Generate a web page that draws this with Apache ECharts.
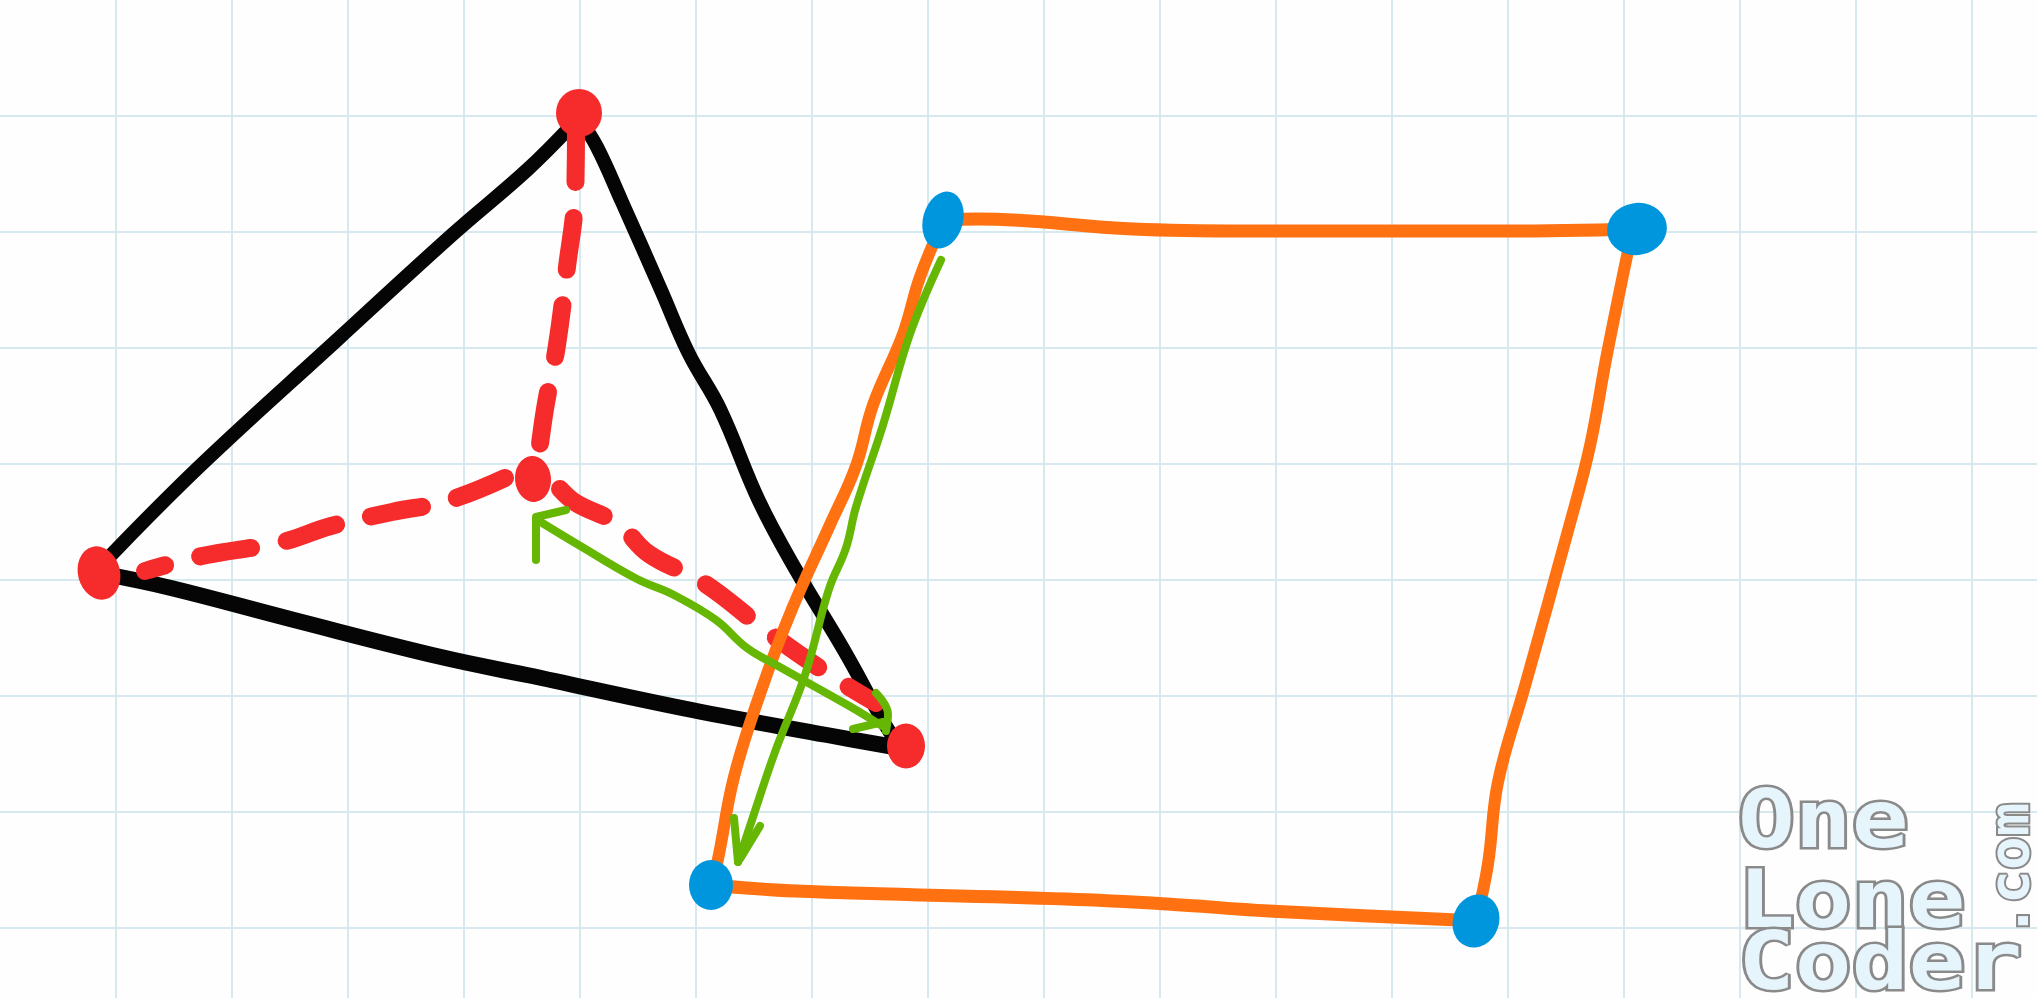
<!DOCTYPE html>
<html>
<head>
<meta charset="utf-8">
<script src="https://cdn.jsdelivr.net/npm/echarts@6/dist/echarts.min.js"></script>
<style>
html,body{margin:0;padding:0;background:#fefefe;}
#chart{width:2037px;height:998px;}
</style>
</head>
<body>
<div id="chart"></div>
<script>
// ---- data (sketch coordinates on the paper) ----
const tetraVertices = [[579,113],[99,573],[906,746],[533,479]]; // apex, left, front-right, back
const quadVertices = [[943,220],[1637,229],[1476,921],[711,885]];

const edgeApexLeft = [[572,125],[527,170],[453,234],[337,340],[202,464],[110,556],[99,570]];
const edgeApexFront = [[580,120],[597,147],[622,202],[661,290],[689,354],[720,409],[759,501],[796,570],[845,652],[883,721],[895,740]];
const edgeLeftFront = [[105,574],[171,588],[294,620],[441,657],[527,675],[692,710],[827,735],[900,748]];

const dashApexBack = [[576,130],[575,198],[567,267],[557,345],[545,409],[538,460]];
const dashBackLeft = [[505,478],[447,501],[392,512],[331,526],[282,542],[202,556],[145,571]];
const dashBackFront = [[560,489],[576,503],[618,524],[649,554],[704,583],[768,632],[833,677],[876,703]];

const quadTop = [[943,220],[978,219],[1133,229],[1248,231],[1505,231],[1637,229]];
const quadRight = [[1632,232],[1607,354],[1590,446],[1569,527],[1525,686],[1498,782],[1488,864],[1476,921]];
const quadBottom = [[711,885],[795,891],[1066,899],[1167,904],[1269,911],[1458,920],[1476,921]];
const quadLeft = [[943,222],[920,277],[903,334],[873,405],[856,466],[829,527],[792,609],[761,691],[734,777],[718,859],[711,885]];

const arrowDown = [[941,260],[910,334],[883,425],[856,507],[846,548],[829,589],[805,675],[775,752],[751,823],[738,862]];
const arrowDownHeadL = [[734,818],[738,862]];
const arrowDownHeadR = [[760,826],[740,859]];
const arrowDiag = [[539,521],[582,547],[637,579],[674,595],[716,620],[747,648],[778,666],[851,707],[882,726]];
const arrowDiagHeadBack = [[536,560],[536,517],[566,510]];
const arrowDiagHeadEnd1 = [[876,693],[888,714],[886,731]];
const arrowDiagHeadEnd2 = [[853,729],[883,722]];

const watermarkLines = ['One','Lone','Coder.'];
const watermarkSide = '.com';

// ---- styles ----
const RED = '#f62b2b', BLUE = '#0096dd', ORANGE = '#ff7111', GREEN = '#66b604', BLACK = '#050505';
const redSizes = [[46,48],[42,54],[38,45],[36,46]];
const redRot = [0,15,0,5];
const blueSizes = [[40,58],[60,52],[46,54],[44,50]];
const blueRot = [-15,10,-20,0];

function stroke(data, color, width, extra) {
  return Object.assign({
    type: 'line', data: data, smooth: 0.4, symbol: 'none', silent: true,
    lineStyle: { color: color, width: width, cap: 'round', join: 'round' }
  }, extra || {});
}
function dashed(data) {
  return stroke(data, RED, 18, {
    lineStyle: { color: RED, width: 18, cap: 'round', join: 'round', type: [52, 36], dashOffset: 0 }
  });
}

const series = [
  stroke(edgeApexLeft, BLACK, 14),
  stroke(edgeApexFront, BLACK, 14),
  stroke(edgeLeftFront, BLACK, 16),
  dashed(dashApexBack),
  dashed(dashBackLeft),
  dashed(dashBackFront),
  stroke(quadTop, ORANGE, 13),
  stroke(quadRight, ORANGE, 12),
  stroke(quadBottom, ORANGE, 13),
  stroke(quadLeft, ORANGE, 12),
  stroke(arrowDown, GREEN, 8),
  stroke(arrowDownHeadL, GREEN, 8, {smooth: false}),
  stroke(arrowDownHeadR, GREEN, 8, {smooth: false}),
  stroke(arrowDiag, GREEN, 8),
  stroke(arrowDiagHeadBack, GREEN, 8, {smooth: false}),
  stroke(arrowDiagHeadEnd1, GREEN, 8),
  stroke(arrowDiagHeadEnd2, GREEN, 8, {smooth: false}),
  {
    type: 'scatter', silent: true, z: 5,
    data: tetraVertices.map((v, i) => ({ value: v, symbolSize: redSizes[i], symbolRotate: redRot[i] })),
    itemStyle: { color: RED, opacity: 1 }
  },
  {
    type: 'scatter', silent: true, z: 5,
    data: quadVertices.map((v, i) => ({ value: v, symbolSize: blueSizes[i], symbolRotate: blueRot[i] })),
    itemStyle: { color: BLUE, opacity: 1 }
  }
];

const wmStyle = { fill: '#e6f4fc', stroke: '#8a8a8a', lineWidth: 5, font: 'bold 80px "DejaVu Sans Mono"' };
const wmTops = [786, 866, 928];
const graphics = watermarkLines.map((t, i) => ({
  type: 'text', x: 1738, y: wmTops[i], scaleX: 1.18, z: 10, silent: true,
  style: Object.assign({ text: t, textVerticalAlign: 'top' }, wmStyle)
}));
graphics.push({
  type: 'text', x: 2013, y: 870, rotation: Math.PI / 2, z: 10, silent: true,
  style: { text: watermarkSide, textAlign: 'center', textVerticalAlign: 'middle',
           fill: '#e6f4fc', stroke: '#8a8a8a', lineWidth: 4, font: 'bold 56px "DejaVu Sans Mono"' }
});

const chart = echarts.init(document.getElementById('chart'), null, { renderer: 'canvas' });
chart.setOption({
  backgroundColor: '#fefefe',
  animation: false,
  grid: { left: 0, right: 0, top: 0, bottom: 0 },
  xAxis: {
    type: 'value', min: 0, max: 2037, interval: 116,
    axisLine: { show: false }, axisTick: { show: false }, axisLabel: { show: false },
    splitLine: { show: true, showMinLine: false, showMaxLine: false, lineStyle: { color: '#d6e9ef', width: 2 } }
  },
  yAxis: {
    type: 'value', min: 0, max: 998, interval: 116, inverse: true,
    axisLine: { show: false }, axisTick: { show: false }, axisLabel: { show: false },
    splitLine: { show: true, showMinLine: false, showMaxLine: false, lineStyle: { color: '#d6e9ef', width: 2 } }
  },
  series: series,
  graphic: graphics
});
</script>
</body>
</html>
